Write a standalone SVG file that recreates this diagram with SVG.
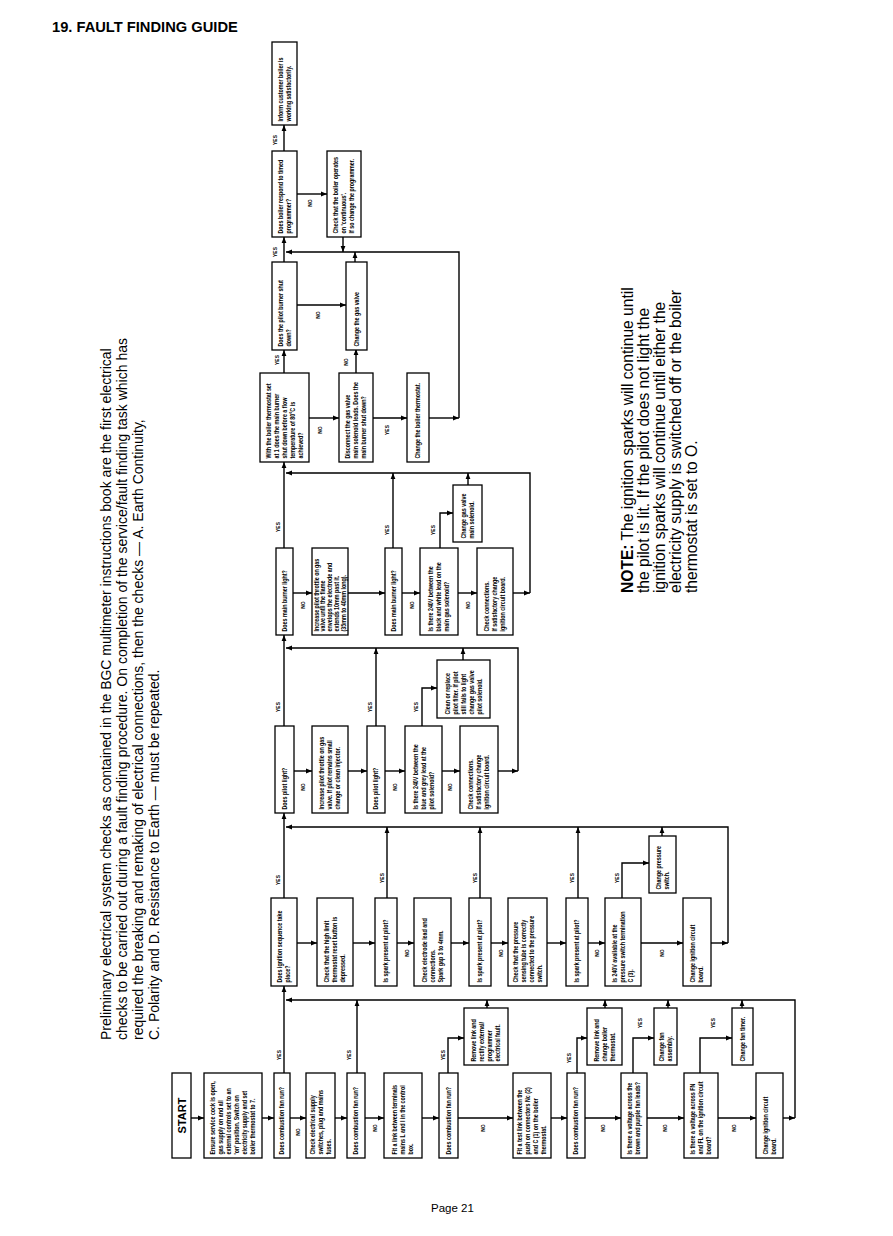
<svg xmlns="http://www.w3.org/2000/svg" width="893" height="1236" viewBox="0 0 893 1236">
<style>
.box{fill:#fff;stroke:#000;stroke-width:1.3}
.bt{font-family:'Liberation Sans',Arial,sans-serif;font-weight:bold;font-size:6.5px;fill:#000;transform:scale(0.82,1)}
.lbl{font-family:'Liberation Sans',Arial,sans-serif;font-weight:bold;font-size:6px;fill:#000;text-anchor:middle}
.cn{fill:none;stroke:#000;stroke-width:1.4;marker-end:url(#ah)}
.txt{font-family:'Liberation Sans',Arial,sans-serif;fill:#000}
</style>
<defs>
<marker id="ah" viewBox="0 0 6 6" refX="6" refY="3" markerWidth="6" markerHeight="6" markerUnits="userSpaceOnUse" orient="auto"><path d="M0,0.6 L6,3 L0,5.4 z" fill="#000"/></marker>
</defs>
<rect width="893" height="1236" fill="#fff"/>
<text class="txt" x="52" y="32" font-size="14.7" font-weight="bold">19. FAULT FINDING GUIDE</text>
<text class="txt" font-size="14" transform="translate(111,1040) rotate(-90)"><tspan x="0" dy="0">Preliminary electrical system checks as contained in the BGC multimeter instructions book are the first electrical</tspan><tspan x="0" dy="16">checks to be carried out during a fault finding procedure. On completion of the service/fault finding task which has</tspan><tspan x="0" dy="16">required the breaking and remaking of electrical connections, then the checks — A. Earth Continuity,</tspan><tspan x="0" dy="16">C. Polarity and D. Resistance to Earth — must be repeated.</tspan></text>
<text class="txt" font-size="15.6" transform="translate(633,593) rotate(-90)"><tspan x="0" dy="0"><tspan font-weight="bold">NOTE:</tspan> The ignition sparks will continue until</tspan><tspan x="0" dy="16">the pilot is lit. If the pilot does not light the</tspan><tspan x="0" dy="16">ignition sparks will continue until either the</tspan><tspan x="0" dy="16">electricity supply is switched off or the boiler</tspan><tspan x="0" dy="16">thermostat is set to O.</tspan></text>
<text class="txt" x="431" y="1212" font-size="11.5">Page 21</text>

<g id="connectors">
<path class="cn" d="M191,1118H204"/>
<path class="cn" d="M262,1118H274"/>
<path class="cn" d="M290,1118H306"/>
<path class="cn" d="M335,1118H347"/>
<path class="cn" d="M365,1118H384"/>
<path class="cn" d="M422,1118H439"/>
<path class="cn" d="M458,1118H513"/>
<path class="cn" d="M551,1118H567"/>
<path class="cn" d="M585,1118H621"/>
<path class="cn" d="M647,1118H684"/>
<path class="cn" d="M718,1118H756"/>
<path class="cn" d="M783,1118H795"/>
<path class="cn" d="M795,1118V1000H286"/>
<path class="cn" d="M284,1073V986"/>
<path class="cn" d="M357,1073V1000"/>
<path class="cn" d="M448,1073V1038H464"/>
<path class="cn" d="M577,1073V1038H587"/>
<path class="cn" d="M633,1073V1038H654"/>
<path class="cn" d="M700,1073V1038H732"/>
<path class="cn" d="M487,1008V1000"/>
<path class="cn" d="M605,1008V1000"/>
<path class="cn" d="M668,1008V1000"/>
<path class="cn" d="M742,1008V1000"/>

<path class="cn" d="M297,943H317"/>
<path class="cn" d="M353,943H375"/>
<path class="cn" d="M397,943H414"/>
<path class="cn" d="M451,943H469"/>
<path class="cn" d="M491,943H508"/>
<path class="cn" d="M547,943H566"/>
<path class="cn" d="M588,943H605"/>
<path class="cn" d="M641,943H683"/>
<path class="cn" d="M711,943H728"/>
<path class="cn" d="M728,943V827H286"/>
<path class="cn" d="M284,898V813"/>
<path class="cn" d="M387,898V827"/>
<path class="cn" d="M480,898V827"/>
<path class="cn" d="M578,898V827"/>
<path class="cn" d="M622,898V863H649"/>
<path class="cn" d="M662,836V827"/>

<path class="cn" d="M294,771H312"/>
<path class="cn" d="M348,771H367"/>
<path class="cn" d="M385,771H405"/>
<path class="cn" d="M442,771H460"/>
<path class="cn" d="M498,771H518"/>
<path class="cn" d="M518,771V648H286"/>
<path class="cn" d="M284,726V635"/>
<path class="cn" d="M376,726V648"/>
<path class="cn" d="M422,726V688H437"/>
<path class="cn" d="M463,660V648"/>

<path class="cn" d="M293,593H312"/>
<path class="cn" d="M348,593H385"/>
<path class="cn" d="M402,593H420"/>
<path class="cn" d="M458,593H477"/>
<path class="cn" d="M513,593H530"/>
<path class="cn" d="M530,593V473H286"/>
<path class="cn" d="M284,548V462"/>
<path class="cn" d="M393,548V473"/>
<path class="cn" d="M440,548V513H453"/>
<path class="cn" d="M468,485V473"/>

<path class="cn" d="M309,418H339"/>
<path class="cn" d="M373,418H407"/>
<path class="cn" d="M429,418H459"/>
<path class="cn" d="M459,418V252H286"/>
<path class="cn" d="M284,373V350"/>
<path class="cn" d="M356,373V349"/>

<path class="cn" d="M297,305H346"/>
<path class="cn" d="M284,262V237"/>
<path class="cn" d="M355,262V252"/>

<path class="cn" d="M297,194H327"/>
<path class="cn" d="M343,237V252"/>
<path class="cn" d="M284,151V125"/>

<g id="labels">
<text class="lbl" transform="translate(281,1055) rotate(-90) scale(0.82,1)">YES</text>
<text class="lbl" transform="translate(351,1055) rotate(-90) scale(0.82,1)">YES</text>
<text class="lbl" transform="translate(445,1055) rotate(-90) scale(0.82,1)">YES</text>
<text class="lbl" transform="translate(571,1058) rotate(-90) scale(0.82,1)">YES</text>
<text class="lbl" transform="translate(642,1023) rotate(-90) scale(0.82,1)">YES</text>
<text class="lbl" transform="translate(715,1023) rotate(-90) scale(0.82,1)">YES</text>
<text class="lbl" transform="translate(300,1132) rotate(-90) scale(0.82,1)">NO</text>
<text class="lbl" transform="translate(377,1128) rotate(-90) scale(0.82,1)">NO</text>
<text class="lbl" transform="translate(485,1128) rotate(-90) scale(0.82,1)">NO</text>
<text class="lbl" transform="translate(605,1128) rotate(-90) scale(0.82,1)">NO</text>
<text class="lbl" transform="translate(667,1128) rotate(-90) scale(0.82,1)">NO</text>
<text class="lbl" transform="translate(736,1128) rotate(-90) scale(0.82,1)">NO</text>
<text class="lbl" transform="translate(280,880) rotate(-90) scale(0.82,1)">YES</text>
<text class="lbl" transform="translate(384,878) rotate(-90) scale(0.82,1)">YES</text>
<text class="lbl" transform="translate(477,878) rotate(-90) scale(0.82,1)">YES</text>
<text class="lbl" transform="translate(574,878) rotate(-90) scale(0.82,1)">YES</text>
<text class="lbl" transform="translate(619,878) rotate(-90) scale(0.82,1)">YES</text>
<text class="lbl" transform="translate(409,953) rotate(-90) scale(0.82,1)">NO</text>
<text class="lbl" transform="translate(503,953) rotate(-90) scale(0.82,1)">NO</text>
<text class="lbl" transform="translate(599,953) rotate(-90) scale(0.82,1)">NO</text>
<text class="lbl" transform="translate(664,953) rotate(-90) scale(0.82,1)">NO</text>
<text class="lbl" transform="translate(280,707) rotate(-90) scale(0.82,1)">YES</text>
<text class="lbl" transform="translate(372,707) rotate(-90) scale(0.82,1)">YES</text>
<text class="lbl" transform="translate(418,707) rotate(-90) scale(0.82,1)">YES</text>
<text class="lbl" transform="translate(305,787) rotate(-90) scale(0.82,1)">NO</text>
<text class="lbl" transform="translate(397,787) rotate(-90) scale(0.82,1)">NO</text>
<text class="lbl" transform="translate(452,787) rotate(-90) scale(0.82,1)">NO</text>
<text class="lbl" transform="translate(305,605) rotate(-90) scale(0.82,1)">NO</text>
<text class="lbl" transform="translate(414,605) rotate(-90) scale(0.82,1)">NO</text>
<text class="lbl" transform="translate(470,605) rotate(-90) scale(0.82,1)">NO</text>
<text class="lbl" transform="translate(280,527) rotate(-90) scale(0.82,1)">YES</text>
<text class="lbl" transform="translate(389,530) rotate(-90) scale(0.82,1)">YES</text>
<text class="lbl" transform="translate(435,530) rotate(-90) scale(0.82,1)">YES</text>
<text class="lbl" transform="translate(322,430) rotate(-90) scale(0.82,1)">NO</text>
<text class="lbl" transform="translate(389,430) rotate(-90) scale(0.82,1)">YES</text>
<text class="lbl" transform="translate(279,360) rotate(-90) scale(0.82,1)">YES</text>
<text class="lbl" transform="translate(348,362) rotate(-90) scale(0.82,1)">NO</text>
<text class="lbl" transform="translate(320,315) rotate(-90) scale(0.82,1)">NO</text>
<text class="lbl" transform="translate(277,252) rotate(-90) scale(0.82,1)">YES</text>
<text class="lbl" transform="translate(312,203) rotate(-90) scale(0.82,1)">NO</text>
<text class="lbl" transform="translate(277,140) rotate(-90) scale(0.82,1)">YES</text>
</g>
</g>

<g id="n_start" transform="translate(172,1158) rotate(-90)"><rect class="box" x="0" y="0" width="85" height="19"/><text class="txt" x="42.5" y="13.5" font-size="11" font-weight="bold" text-anchor="middle">START</text></g>
<g id="n_ensure" transform="translate(204,1158) rotate(-90)"><rect class="box" x="0" y="0" width="85" height="58"/><text class="bt"><tspan x="4.3" y="11.3">Ensure service cock is open,</tspan><tspan x="4.3" y="19.3">gas supply on and all</tspan><tspan x="4.3" y="27.3">external controls set to an</tspan><tspan x="4.3" y="35.3">'on' position. Switch on</tspan><tspan x="4.3" y="43.3">electricity supply and set</tspan><tspan x="4.3" y="51.3">boiler thermostat to 7.</tspan></text></g>
<g id="n_fan1" transform="translate(274,1158) rotate(-90)"><rect class="box" x="0" y="0" width="85" height="16"/><text class="bt"><tspan x="4.3" y="10.3">Does combustion fan run?</tspan></text></g>
<g id="n_checkelec" transform="translate(306,1158) rotate(-90)"><rect class="box" x="0" y="0" width="85" height="29"/><text class="bt"><tspan x="4.3" y="8.8">Check electrical supply</tspan><tspan x="4.3" y="16.8">switches, plug and mains</tspan><tspan x="4.3" y="24.8">fuses.</tspan></text></g>
<g id="n_fan2" transform="translate(347,1158) rotate(-90)"><rect class="box" x="0" y="0" width="85" height="18"/><text class="bt"><tspan x="4.3" y="11.3">Does combustion fan run?</tspan></text></g>
<g id="n_fitlink" transform="translate(384,1158) rotate(-90)"><rect class="box" x="0" y="0" width="85" height="38"/><text class="bt"><tspan x="4.3" y="13.3">Fit a link between terminals</tspan><tspan x="4.3" y="21.3">mains L and I in the control</tspan><tspan x="4.3" y="29.3">box.</tspan></text></g>
<g id="n_fan3" transform="translate(439,1158) rotate(-90)"><rect class="box" x="0" y="0" width="85" height="19"/><text class="bt"><tspan x="4.3" y="11.8">Does combustion fan run?</tspan></text></g>
<g id="n_fittest" transform="translate(513,1158) rotate(-90)"><rect class="box" x="0" y="0" width="85" height="38"/><text class="bt"><tspan x="4.3" y="9.3">Fit a test link between the</tspan><tspan x="4.3" y="17.3">push on connectors Nc (2)</tspan><tspan x="4.3" y="25.3">and C (1) on the boiler</tspan><tspan x="4.3" y="33.3">thermostat.</tspan></text></g>
<g id="n_fan4" transform="translate(567,1158) rotate(-90)"><rect class="box" x="0" y="0" width="85" height="18"/><text class="bt"><tspan x="4.3" y="11.3">Does combustion fan run?</tspan></text></g>
<g id="n_voltfan" transform="translate(621,1158) rotate(-90)"><rect class="box" x="0" y="0" width="85" height="26"/><text class="bt"><tspan x="4.3" y="11.3">Is there a voltage across the</tspan><tspan x="4.3" y="19.3">brown and purple fan leads?</tspan></text></g>
<g id="n_voltfn" transform="translate(684,1158) rotate(-90)"><rect class="box" x="0" y="0" width="85" height="34"/><text class="bt"><tspan x="4.3" y="11.3">Is there a voltage across FN</tspan><tspan x="4.3" y="19.3">and FL on the ignition circuit</tspan><tspan x="4.3" y="27.3">board?</tspan></text></g>
<g id="n_changeign1" transform="translate(756,1158) rotate(-90)"><rect class="box" x="0" y="0" width="85" height="27"/><text class="bt"><tspan x="4.3" y="11.8">Change ignition circuit</tspan><tspan x="4.3" y="19.8">board.</tspan></text></g>
<g id="n_remove1" transform="translate(464,1065) rotate(-90)"><rect class="box" x="0" y="0" width="57" height="44"/><text class="bt"><tspan x="4.3" y="12.3">Remove link and</tspan><tspan x="4.3" y="20.3">rectify external/</tspan><tspan x="4.3" y="28.3">programmer</tspan><tspan x="4.3" y="36.3">electrical fault.</tspan></text></g>
<g id="n_remove2" transform="translate(587,1065) rotate(-90)"><rect class="box" x="0" y="0" width="57" height="35"/><text class="bt"><tspan x="4.3" y="11.8">Remove link and</tspan><tspan x="4.3" y="19.8">change boiler</tspan><tspan x="4.3" y="27.8">thermostat.</tspan></text></g>
<g id="n_changefan" transform="translate(654,1065) rotate(-90)"><rect class="box" x="0" y="0" width="57" height="23"/><text class="bt"><tspan x="4.3" y="9.8">Change fan</tspan><tspan x="4.3" y="17.8">assembly.</tspan></text></g>
<g id="n_changetimer" transform="translate(732,1065) rotate(-90)"><rect class="box" x="0" y="0" width="57" height="21"/><text class="bt"><tspan x="4.3" y="12.8">Change fan timer.</tspan></text></g>

<g id="n_ignition" transform="translate(271,986) rotate(-90)"><rect class="box" x="0" y="0" width="88" height="26"/><text class="bt"><tspan x="4.3" y="11.3">Does ignition sequence take</tspan><tspan x="4.3" y="19.3">place?</tspan></text></g>
<g id="n_highlimit" transform="translate(317,986) rotate(-90)"><rect class="box" x="0" y="0" width="88" height="36"/><text class="bt"><tspan x="4.3" y="12.3">Check that the high limit</tspan><tspan x="4.3" y="20.3">thermostat reset button is</tspan><tspan x="4.3" y="28.3">depressed.</tspan></text></g>
<g id="n_spark1" transform="translate(375,986) rotate(-90)"><rect class="box" x="0" y="0" width="88" height="22"/><text class="bt"><tspan x="4.3" y="13.3">Is spark present at pilot?</tspan></text></g>
<g id="n_electrode" transform="translate(414,986) rotate(-90)"><rect class="box" x="0" y="0" width="88" height="37"/><text class="bt"><tspan x="4.3" y="12.8">Check electrode lead and</tspan><tspan x="4.3" y="20.8">connections.</tspan><tspan x="4.3" y="28.8">Spark gap 3 to 4mm.</tspan></text></g>
<g id="n_spark2" transform="translate(469,986) rotate(-90)"><rect class="box" x="0" y="0" width="88" height="22"/><text class="bt"><tspan x="4.3" y="13.3">Is spark present at pilot?</tspan></text></g>
<g id="n_tube" transform="translate(508,986) rotate(-90)"><rect class="box" x="0" y="0" width="88" height="39"/><text class="bt"><tspan x="4.3" y="9.8">Check that the pressure</tspan><tspan x="4.3" y="17.8">sensing tube is correctly</tspan><tspan x="4.3" y="25.8">connected to the pressure</tspan><tspan x="4.3" y="33.8">switch.</tspan></text></g>
<g id="n_spark3" transform="translate(566,986) rotate(-90)"><rect class="box" x="0" y="0" width="88" height="22"/><text class="bt"><tspan x="4.3" y="13.3">Is spark present at pilot?</tspan></text></g>
<g id="n_240pressure" transform="translate(605,986) rotate(-90)"><rect class="box" x="0" y="0" width="88" height="36"/><text class="bt"><tspan x="4.3" y="12.3">Is 240V available at the</tspan><tspan x="4.3" y="20.3">pressure switch termination</tspan><tspan x="4.3" y="28.3">C (3).</tspan></text></g>
<g id="n_changeign2" transform="translate(683,986) rotate(-90)"><rect class="box" x="0" y="0" width="88" height="28"/><text class="bt"><tspan x="4.3" y="12.3">Change ignition circuit</tspan><tspan x="4.3" y="20.3">board.</tspan></text></g>
<g id="n_changepress" transform="translate(649,893) rotate(-90)"><rect class="box" x="0" y="0" width="57" height="27"/><text class="bt"><tspan x="4.3" y="11.8">Change pressure</tspan><tspan x="4.3" y="19.8">switch.</tspan></text></g>

<g id="n_pilot1" transform="translate(275,813) rotate(-90)"><rect class="box" x="0" y="0" width="87" height="19"/><text class="bt"><tspan x="4.3" y="11.8">Does pilot light?</tspan></text></g>
<g id="n_increase1" transform="translate(312,813) rotate(-90)"><rect class="box" x="0" y="0" width="87" height="36"/><text class="bt"><tspan x="4.3" y="12.3">Increase pilot throttle on gas</tspan><tspan x="4.3" y="20.3">valve. If pilot remains small</tspan><tspan x="4.3" y="28.3">change or clean injector.</tspan></text></g>
<g id="n_pilot2" transform="translate(367,813) rotate(-90)"><rect class="box" x="0" y="0" width="87" height="18"/><text class="bt"><tspan x="4.3" y="11.3">Does pilot light?</tspan></text></g>
<g id="n_240blue" transform="translate(405,813) rotate(-90)"><rect class="box" x="0" y="0" width="87" height="37"/><text class="bt"><tspan x="4.3" y="12.8">Is there 240V between the</tspan><tspan x="4.3" y="20.8">blue and grey lead at the</tspan><tspan x="4.3" y="28.8">pilot solenoid?</tspan></text></g>
<g id="n_checkconn1" transform="translate(460,813) rotate(-90)"><rect class="box" x="0" y="0" width="87" height="38"/><text class="bt"><tspan x="4.3" y="13.3">Check connections.</tspan><tspan x="4.3" y="21.3">If satisfactory change</tspan><tspan x="4.3" y="29.3">ignition circuit board.</tspan></text></g>
<g id="n_clean" transform="translate(437,718) rotate(-90)"><rect class="box" x="0" y="0" width="58" height="53"/><text class="bt"><tspan x="4.3" y="12.8">Clean or replace</tspan><tspan x="4.3" y="20.8">pilot filter. If pilot</tspan><tspan x="4.3" y="28.8">still fails to light</tspan><tspan x="4.3" y="36.8">change gas valve</tspan><tspan x="4.3" y="44.8">pilot solenoid.</tspan></text></g>

<g id="n_main1" transform="translate(276,635) rotate(-90)"><rect class="box" x="0" y="0" width="87" height="17"/><text class="bt"><tspan x="4.3" y="10.8">Does main burner light?</tspan></text></g>
<g id="n_increase2" transform="translate(312,635) rotate(-90)"><rect class="box" x="0" y="0" width="87" height="36"/><text class="bt"><tspan x="4.3" y="6.7">Increase pilot throttle on gas</tspan><tspan x="4.3" y="13.5">valve until the flame</tspan><tspan x="4.3" y="20.3">envelops the electrode and</tspan><tspan x="4.3" y="27.1">extends 10mm past it.</tspan><tspan x="4.3" y="33.9">(35mm to 40mm long).</tspan></text></g>
<g id="n_main2" transform="translate(385,635) rotate(-90)"><rect class="box" x="0" y="0" width="87" height="17"/><text class="bt"><tspan x="4.3" y="10.8">Does main burner light?</tspan></text></g>
<g id="n_240black" transform="translate(420,635) rotate(-90)"><rect class="box" x="0" y="0" width="87" height="38"/><text class="bt"><tspan x="4.3" y="13.3">Is there 240V between the</tspan><tspan x="4.3" y="21.3">black and white lead on the</tspan><tspan x="4.3" y="29.3">main gas solenoid?</tspan></text></g>
<g id="n_checkconn2" transform="translate(477,635) rotate(-90)"><rect class="box" x="0" y="0" width="87" height="36"/><text class="bt"><tspan x="4.3" y="12.3">Check connections.</tspan><tspan x="4.3" y="20.3">If satisfactory change</tspan><tspan x="4.3" y="28.3">ignition circuit board.</tspan></text></g>
<g id="n_changesol" transform="translate(453,542) rotate(-90)"><rect class="box" x="0" y="0" width="57" height="29"/><text class="bt"><tspan x="4.3" y="12.8">Change gas valve</tspan><tspan x="4.3" y="20.8">main solenoid.</tspan></text></g>

<g id="n_thermo" transform="translate(260,462) rotate(-90)"><rect class="box" x="0" y="0" width="89" height="49"/><text class="bt"><tspan x="4.3" y="10.8">With the boiler thermostat set</tspan><tspan x="4.3" y="18.8">at 1 does the main burner</tspan><tspan x="4.3" y="26.8">shut down before a flow</tspan><tspan x="4.3" y="34.8">temperature of 80°C is</tspan><tspan x="4.3" y="42.8">achieved?</tspan></text></g>
<g id="n_disconnect" transform="translate(339,462) rotate(-90)"><rect class="box" x="0" y="0" width="89" height="34"/><text class="bt"><tspan x="4.3" y="11.3">Disconnect the gas valve</tspan><tspan x="4.3" y="19.3">main solenoid leads. Does the</tspan><tspan x="4.3" y="27.3">main burner shut down?</tspan></text></g>
<g id="n_changethermo" transform="translate(407,462) rotate(-90)"><rect class="box" x="0" y="0" width="89" height="22"/><text class="bt"><tspan x="4.3" y="13.3">Change the boiler thermostat.</tspan></text></g>

<g id="n_pilotburner" transform="translate(272,350) rotate(-90)"><rect class="box" x="0" y="0" width="88" height="25"/><text class="bt"><tspan x="4.3" y="10.8">Does the pilot burner shut</tspan><tspan x="4.3" y="18.8">down?</tspan></text></g>
<g id="n_changegas" transform="translate(346,350) rotate(-90)"><rect class="box" x="0" y="0" width="88" height="21"/><text class="bt"><tspan x="4.3" y="12.8">Change the gas valve</tspan></text></g>

<g id="n_respond" transform="translate(272,237) rotate(-90)"><rect class="box" x="0" y="0" width="86" height="25"/><text class="bt"><tspan x="4.3" y="10.8">Does boiler respond to timed</tspan><tspan x="4.3" y="18.8">programmer?</tspan></text></g>
<g id="n_checkprog" transform="translate(327,237) rotate(-90)"><rect class="box" x="0" y="0" width="86" height="34"/><text class="bt"><tspan x="4.3" y="11.3">Check that the boiler operates</tspan><tspan x="4.3" y="19.3">on 'continuous'.</tspan><tspan x="4.3" y="27.3">If so change the programmer.</tspan></text></g>
<g id="n_inform" transform="translate(272,125) rotate(-90)"><rect class="box" x="0" y="0" width="83" height="25"/><text class="bt"><tspan x="4.3" y="10.8">Inform customer boiler is</tspan><tspan x="4.3" y="18.8">working satisfactorily.</tspan></text></g>
</svg>
